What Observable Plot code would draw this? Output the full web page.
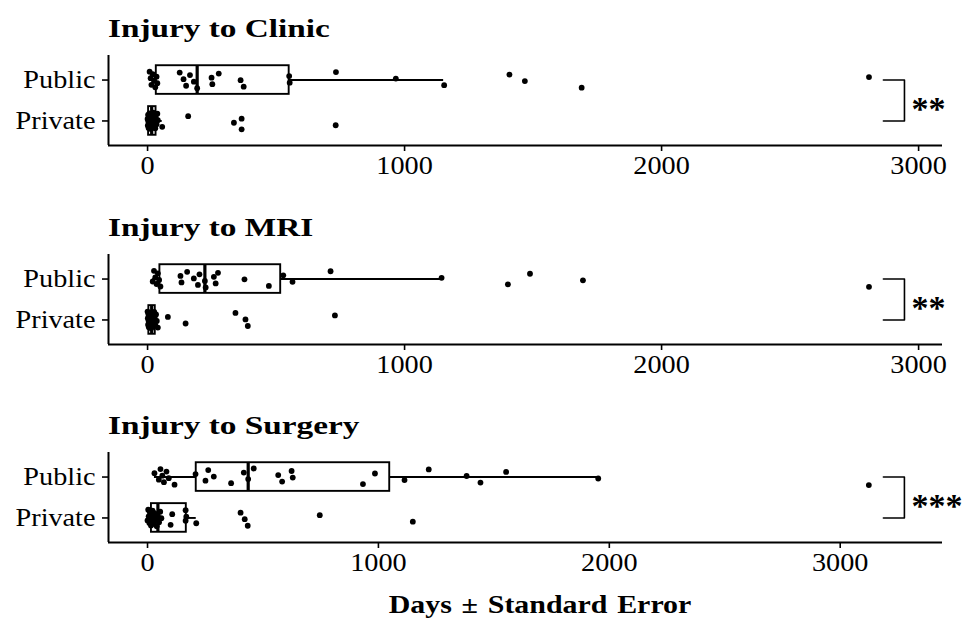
<!DOCTYPE html>
<html><head><meta charset="utf-8">
<script src="https://cdn.jsdelivr.net/npm/d3@7"></script>
<script src="https://cdn.jsdelivr.net/npm/@observablehq/plot@0.6"></script>
<style>
body{margin:0;background:#fff;}
#chart{position:relative;width:962px;height:620px;font-family:"Liberation Serif","Times New Roman",serif;color:#000;overflow:hidden;}
.panel{position:absolute;left:0;width:962px;height:199px;}
.panel svg{position:absolute;left:0;top:0;}
.title{position:absolute;left:108px;top:14px;font-size:26px;font-weight:bold;line-height:30px;white-space:nowrap;transform:scaleX(1.28);transform-origin:left center;}
.xlabel{position:absolute;left:540px;top:590px;font-size:26px;font-weight:bold;line-height:30px;white-space:nowrap;transform:translateX(-50%) scaleX(1.15);transform-origin:center center;word-spacing:2px;}
</style>
</head><body>
<div id="chart"></div>
<script>
// ---- data ----
const categories = ["Private", "Public"];           // y positions 1, 2
const panelTitles = ["Injury to Clinic", "Injury to MRI", "Injury to Surgery"];
const xTicks = [0, 1000, 2000, 3000];
const xAxisTitle = "Days \u00b1 Standard Error";
const sigLabels = ["**", "**", "***"];

const clinicPublic = [8, 12, 15, 20, 25, 30, 35, 38, 125, 140, 150, 165, 180, 193, 249, 252, 277, 362, 374, 551, 553, 733, 966, 1154, 1408, 1468, 1689, 2807];
const clinicPrivate = [0, 1, 2, 3, 4, 5, 6, 7, 8, 9, 10, 12, 13, 14, 15, 16, 18, 19, 20, 21, 22, 24, 25, 27, 29, 30, 32, 35, 38, 40, 57, 158, 336, 366, 366, 732];
const mriPublic = [20, 25, 30, 35, 40, 45, 50, 128, 132, 154, 180, 196, 202, 223, 226, 258, 265, 274, 377, 472, 528, 564, 712, 1144, 1402, 1488, 1694, 2807];
const mriPrivate = [0, 1, 2, 3, 4, 5, 6, 7, 8, 9, 10, 11, 13, 14, 15, 17, 18, 20, 21, 22, 24, 26, 28, 30, 33, 36, 40, 79, 148, 342, 381, 390, 729];
const surgeryPublic = [30, 49, 56, 64, 71, 82, 92, 117, 208, 251, 263, 287, 362, 417, 436, 460, 566, 583, 624, 629, 933, 985, 1113, 1218, 1382, 1442, 1553, 1952, 3124];
const surgeryPrivate = [0, 3, 5, 8, 10, 12, 15, 18, 20, 22, 25, 28, 30, 35, 40, 45, 50, 55, 60, 100, 107, 165, 165, 168, 211, 403, 421, 434, 746, 1149];

// box statistics [lo whisker, q1, median, q3, hi whisker]
const clinicPublicBox = [8, 34, 193, 551, 1152];
const clinicPrivateBox = [0, 4, 16, 33, 57];
const mriPublicBox = [20, 48, 223, 518, 1144];
const mriPrivateBox = [0, 5, 16, 30, 40];
const surgeryPublicBox = [30, 211, 436, 1049, 1952];
const surgeryPrivateBox = [0, 17, 45, 168, 211];

// significance brackets (days)
const bracketStart = [2863, 2863, 3187];
const bracketEnd = [2945, 2945, 3278];

const xDomains = [[-152, 3093], [-152, 3093], [-169, 3443]];

// ---- drawing ----
const panels = [
  {pub: clinicPublic, priv: clinicPrivate, pubBox: clinicPublicBox, privBox: clinicPrivateBox},
  {pub: mriPublic, priv: mriPrivate, pubBox: mriPublicBox, privBox: mriPrivateBox},
  {pub: surgeryPublic, priv: surgeryPrivate, pubBox: surgeryPublicBox, privBox: surgeryPrivateBox}
];
const panelTops = [0, 199, 397];
const chart = document.getElementById("chart");

function jitter(i, g) {
  const f = ((i + 1) * 0.6180339887 + g * 0.37) % 1;
  return (f - 0.5) * 0.42;
}

function stretch(svg, sx) {
  svg.querySelectorAll('g[aria-label="x-axis tick label"] text, g[aria-label="y-axis tick label"] text').forEach(t => {
    const x = +(t.getAttribute("x") || 0);
    const tr = t.getAttribute("transform") || "";
    t.setAttribute("transform", `${tr} translate(${x},0) scale(${sx},1) translate(${-x},0)`);
  });
}

panels.forEach((p, k) => {
  const pts = [];
  [p.priv, p.pub].forEach((vals, gi) => vals.forEach((v, i) => pts.push({x: v, y: gi + 1 + jitter(i, gi + k)})));
  const boxes = [p.privBox, p.pubBox].map((b, gi) => ({y: gi + 1, lo: b[0], q1: b[1], med: b[2], q3: b[3], hi: b[4]}));
  const bracket = [
    {x: bracketStart[k], y: 2}, {x: bracketEnd[k], y: 2},
    {x: bracketEnd[k], y: 1}, {x: bracketStart[k], y: 1}
  ];
  const sig = [{x: bracketEnd[k], y: 1.5, t: sigLabels[k]}];
  const dom = xDomains[k];

  const svg = Plot.plot({
    width: 962, height: 185,
    marginLeft: 108, marginRight: 20, marginTop: 55, marginBottom: 40,
    x: {domain: dom, axis: null},
    y: {domain: [0.4, 2.6], axis: null},
    style: {fontFamily: '"Liberation Serif","Times New Roman",serif', fontSize: "25px", color: "black", background: "transparent", overflow: "visible"},
    marks: [
      Plot.axisX(xTicks, {tickSize: 6, tickPadding: 5, tickFormat: d => String(d), strokeWidth: 1.6, label: null}),
      Plot.axisY([1, 2], {tickSize: 6, tickPadding: 7, tickFormat: d => categories[d - 1], strokeWidth: 1.6, label: null}),
      Plot.ruleX([dom[0]], {strokeWidth: 2}),
      Plot.ruleY([0.4], {strokeWidth: 2}),
      Plot.ruleY(boxes, {y: "y", x1: "lo", x2: "q1", strokeWidth: 1.9}),
      Plot.ruleY(boxes, {y: "y", x1: "q3", x2: "hi", strokeWidth: 1.9}),
      Plot.rect(boxes, {x1: "q1", x2: "q3", y1: d => d.y - 0.35, y2: d => d.y + 0.35, fill: "white", stroke: "black", strokeWidth: 1.9}),
      Plot.ruleX(boxes, {x: "med", y1: d => d.y - 0.35, y2: d => d.y + 0.35, strokeWidth: 3.2}),
      Plot.dot(pts, {x: "x", y: "y", r: 2.9, fill: "black"}),
      Plot.line(bracket, {x: "x", y: "y", strokeWidth: 1.6}),
      Plot.text(sig, {x: "x", y: "y", text: "t", textAnchor: "start", dx: 7, dy: 9, fontSize: 34, fontWeight: "bold"})
    ]
  });
  stretch(svg, 1.13);

  const div = document.createElement("div");
  div.className = "panel";
  div.style.top = panelTops[k] + "px";
  div.appendChild(svg);
  const title = document.createElement("div");
  title.className = "title";
  title.textContent = panelTitles[k];
  div.appendChild(title);
  chart.appendChild(div);
});

const xl = document.createElement("div");
xl.className = "xlabel";
xl.textContent = xAxisTitle;
chart.appendChild(xl);
</script>
</body></html>
